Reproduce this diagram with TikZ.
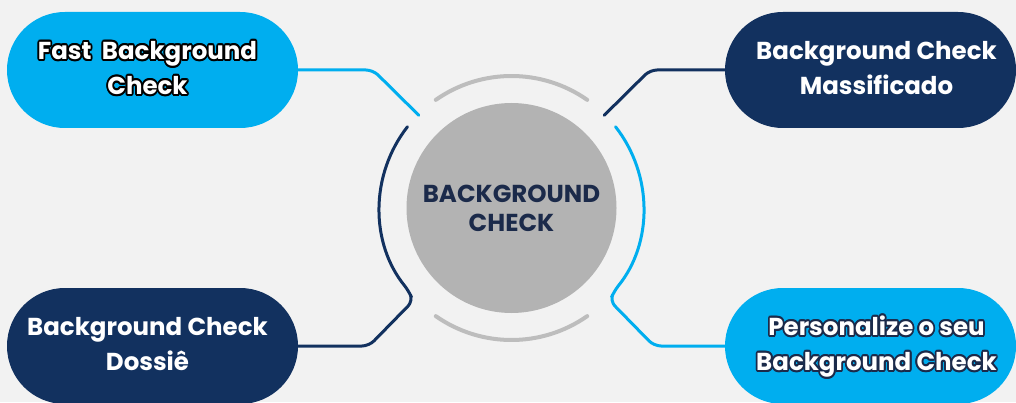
\documentclass[tikz,border=0pt]{standalone}
\usepackage{fontspec}
\setmainfont{Poppins}
\definecolor{bg}{HTML}{F2F2F2}
\definecolor{cyanb}{HTML}{00AEEF}
\definecolor{navy}{HTML}{12315F}
\definecolor{ink}{HTML}{1B2A4A}
\definecolor{ring}{HTML}{BDBDBD}
\definecolor{hubgray}{HTML}{B3B3B3}
\newsavebox\olA
\newsavebox\olB
\newcommand\outlinedtext[2]{%
  \sbox\olA{\color{#1}#2}%
  \sbox\olB{\color{white}#2}%
  \makebox[\wd\olB][l]{%
    \foreach \a in {0,30,...,330}{%
      \pgfmathsetlengthmacro\odx{1.8pt*cos(\a)}%
      \pgfmathsetlengthmacro\ody{1.8pt*sin(\a)}%
      \rlap{\hspace*{\odx}\raisebox{\ody}{\usebox\olA}}}%
    \usebox\olB}}
\newcommand\twolines[2]{\begin{tabular}{@{}c@{}}#1\\#2\end{tabular}}
\begin{document}
\begin{tikzpicture}[x=1pt,y=1pt,
  pill/.style={rectangle, rounded corners=57.9pt, minimum width=291pt, minimum height=116pt,
    inner sep=0pt, text=white, font=\fontsize{24.5}{35}\selectfont\bfseries},
  conn/.style={line width=3pt, line cap=round, rounded corners=7pt},
  ringarc/.style={line width=4pt, line cap=round, draw=ring}]
\useasboundingbox (0,0) rectangle (1016,402);
\clip (0,0) rectangle (1016,402);
\fill[bg] (0,0) rectangle (1016,402);
\coordinate (hubc) at (511.5,194);
% hub
\node[circle, fill=hubgray, minimum size=210pt, inner sep=0pt, text=ink, align=center,
  font=\fontsize{24.5}{29}\selectfont\bfseries] (hub) at (hubc) {BACKGROUND\\CHECK};
% gray rings
\draw[ringarc] ([shift={(55:132pt)}]hubc) arc[start angle=55, end angle=125, radius=132pt];
\draw[ringarc] ([shift={(235:132pt)}]hubc) arc[start angle=235, end angle=305, radius=132pt];
% boxes
\node[pill, fill=cyanb] (fast) at (152.5,332) {\hspace*{-10pt}\outlinedtext{black}{\twolines{Fast\ \ Background}{Check}}};
\node[pill, fill=navy] (mass) at (870.5,332) {\hspace*{12pt}\twolines{Background Check}{Massificado}};
\node[pill, fill=navy] (dos) at (152.5,56) {\hspace*{-10pt}\raisebox{-5pt}{\twolines{Background Check}{Dossiê}}};
\node[pill, fill=cyanb] (pers) at (870.5,56) {\hspace*{12pt}\outlinedtext{ink}{\twolines{Personalize o seu}{Background Check}}};
% free ends
\coordinate (fastend) at ([shift={(135:131pt)}]hubc);
\coordinate (massend) at ([shift={(45:131pt)}]hubc);
% connectors
\draw[conn, draw=cyanb] (fast.east) -- (373,332) -- (fastend);
\draw[conn, draw=navy] (mass.west) -- (650,332) -- (massend);
\draw[conn, draw=navy] (dos.east) -- (369,56) -- (413,101) -- ([shift={(219:132pt)}]hubc)
  arc[start angle=219, end angle=142, radius=132pt];
\draw[conn, draw=cyanb] (pers.west) -- (654,56) -- (610,101) -- ([shift={(-39:132pt)}]hubc)
  arc[start angle=-39, end angle=38, radius=132pt];
\end{tikzpicture}
\end{document}
